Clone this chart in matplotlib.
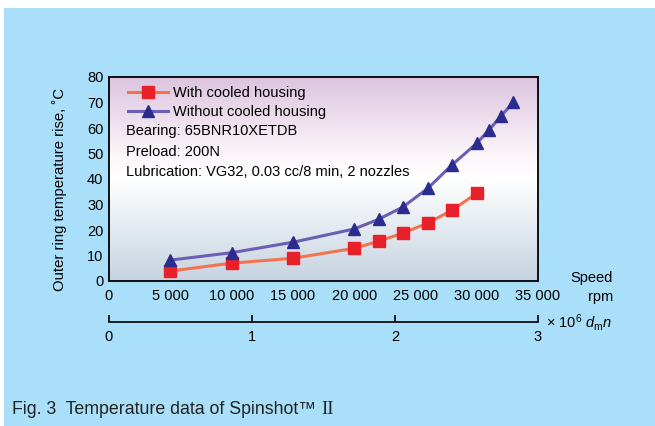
import numpy as np
import matplotlib
matplotlib.use("Agg")
import matplotlib.pyplot as plt
from matplotlib.colors import LinearSegmentedColormap

plt.rcParams["font.family"] = ["Liberation Sans", "DejaVu Sans"]
plt.rcParams["mathtext.fontset"] = "custom"
plt.rcParams["mathtext.rm"] = "Liberation Sans"
plt.rcParams["mathtext.it"] = "Liberation Sans:italic"

# data
speed_cooled = [5000, 10000, 15000, 20000, 22000, 24000, 26000, 28000, 30000]
temp_cooled = [3.9, 7.0, 8.9, 12.8, 15.6, 18.8, 22.7, 27.8, 34.4]
speed_plain = [5000, 10000, 15000, 20000, 22000, 24000, 26000, 28000, 30000, 31000, 32000, 33000]
temp_plain = [8.2, 11.1, 15.2, 20.4, 24.2, 29.1, 36.3, 45.6, 54.0, 59.2, 64.8, 70.1]
rpm_ticks = [0, 5000, 10000, 15000, 20000, 25000, 30000, 35000]
rpm_labels = ["0", "5 000", "10 000", "15 000", "20 000", "25 000", "30 000", "35 000"]
dmn_ticks = [0, 1, 2, 3]
temp_ticks = list(range(0, 81, 10))

W, H = 655, 426
fig = plt.figure(figsize=(W / 100, H / 100), dpi=100)
fig.patch.set_facecolor("white")
fig.add_artist(plt.Rectangle((4 / W, 0), 1, 1 - 8 / H, transform=fig.transFigure,
                             facecolor="#a9dff8", edgecolor="none", zorder=0))

x0, x1, y0, y1 = 109, 538, 77, 281
ax = fig.add_axes([x0 / W, 1 - y1 / H, (x1 - x0) / W, (y1 - y0) / H])
ax.set_xlim(0, 35000)
ax.set_ylim(0, 80)

# background gradient
cmap = LinearSegmentedColormap.from_list(
    "bg", [(0, "#c6d3e0"), (0.5, "#ffffff"), (0.62, "#fbf6fa"), (1, "#dcc4de")])
grad = np.linspace(0, 1, 256).reshape(-1, 1)
ax.imshow(grad, cmap=cmap, aspect="auto", origin="lower",
          extent=[0, 1, 0, 1], transform=ax.transAxes, zorder=0)

ax.plot(speed_cooled, temp_cooled, color="#f4734f", lw=2.2, marker="s", ms=8.5,
        mfc="#e8202a", mec="#e8202a", label="With cooled housing", zorder=3)
ax.plot(speed_plain, temp_plain, color="#6b5fb3", lw=2.2, marker="^", ms=9,
        mfc="#2b2d8e", mec="#2b2d8e", label="Without cooled housing", zorder=3)

ax.set_xticks(rpm_ticks)
ax.set_xticklabels(rpm_labels)
ax.set_yticks(temp_ticks)
ax.tick_params(length=0, labelsize=10.5)
ax.tick_params(axis="x", pad=6)
ax.tick_params(axis="y", pad=4)
for s in ax.spines.values():
    s.set_linewidth(1.3)
ax.set_ylabel("Outer ring temperature rise, ˚C", fontsize=10.7)
ax.yaxis.set_label_coords(-0.097, 0.45)

leg = ax.legend(loc="upper left", frameon=False, fontsize=10.5, handlelength=2.7,
                handletextpad=0.35, borderaxespad=0.2, labelspacing=0.35,
                bbox_to_anchor=(0.025, 1.0))
for i, t in enumerate(["Bearing: 65BNR10XETDB", "Preload: 200N",
                       "Lubrication: VG32, 0.03 cc/8 min, 2 nozzles"]):
    ax.text(17 / (x1 - x0), 1 - (54 + 20.5 * i) / (y1 - y0), t, transform=ax.transAxes,
            fontsize=10.5, va="center", ha="left")

fig.text(613 / W, 1 - 278 / H, "Speed", ha="right", va="center", fontsize=10.5)
fig.text(613 / W, 1 - 297 / H, "rpm", ha="right", va="center", fontsize=10.5)

# dmn axis
ax2 = fig.add_axes([x0 / W, 1 - 322 / H, (x1 - x0) / W, 0.001])
ax2.set_xlim(0, 3)
ax2.set_yticks([])
ax2.set_xticks(dmn_ticks)
for k in ["top", "left", "right"]:
    ax2.spines[k].set_visible(False)
ax2.spines["bottom"].set_linewidth(1.2)
ax2.patch.set_visible(False)
ax2.tick_params(axis="x", direction="in", length=5, width=1.2, labelsize=10.5, pad=6)
fig.text(546 / W, 1 - 323 / H, r"$\times\ 10^6\ d_{\rm m}n$", ha="left", va="center",
         fontsize=10.5)

title = fig.text(12 / W, 1 - 410 / H, "Fig. 3  Temperature data of Spinshot™ ",
                 ha="left", va="center", fontsize=12.8, color="#222222")
fig.canvas.draw()
bb = title.get_window_extent()
fig.text(bb.x1 / W, 1 - 410 / H, "II", ha="left", va="center", fontsize=13.5,
         family="Liberation Serif", color="#222222")

fig.savefig("out.png", dpi=100)
